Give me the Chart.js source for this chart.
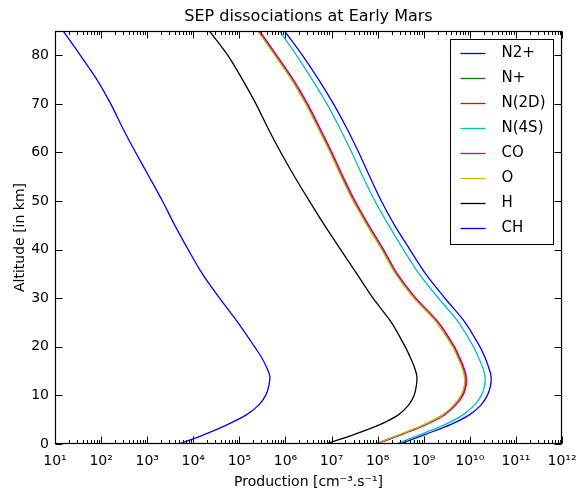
<!DOCTYPE html>
<html>
<head>
<meta charset="utf-8">
<script src="https://cdn.jsdelivr.net/npm/chart.js@4.4.0/dist/chart.umd.min.js"></script>
<style>
html,body{margin:0;padding:0;background:#fff;}
#wrap{width:577px;height:491px;}
</style>
</head>
<body>
<div id="wrap"><canvas id="c" width="577" height="491"></canvas></div>
<script>
// Altitude grid (km)
const altitudeKm = [0,2,4,6,8,10,12,14,16,18,20,25,30,35,40,45,50,55,60,65,70,75,80,85];

// Production rates [cm^-3 s^-1]
const prodN2plus = [3.02e8,1.10e9,3.80e9,9.77e9,1.74e10,2.40e10,2.82e10,2.88e10,2.51e10,2.09e10,1.66e10,7.94e9,2.88e9,1.10e9,5.01e8,2.34e8,1.20e8,6.76e7,3.89e7,2.14e7,1.10e7,5.25e6,2.34e6,9.55e5];
const prodNplus  = [8.91e7,3.16e8,1.05e9,2.63e9,4.57e9,6.61e9,7.76e9,7.76e9,6.76e9,5.50e9,4.37e9,1.95e9,6.31e8,2.51e8,1.26e8,6.03e7,3.02e7,1.66e7,9.55e6,5.25e6,2.82e6,1.38e6,6.03e5,2.57e5];
const prodN2D    = [9.33e7,3.31e8,1.10e9,2.75e9,4.79e9,6.92e9,8.13e9,8.13e9,7.08e9,5.75e9,4.57e9,2.04e9,6.61e8,2.63e8,1.32e8,6.31e7,3.16e7,1.74e7,1.00e7,5.50e6,2.95e6,1.45e6,6.31e5,2.69e5];
const prodN4S    = [2.51e8,8.71e8,2.88e9,7.08e9,1.26e10,1.78e10,2.09e10,2.14e10,1.86e10,1.51e10,1.20e10,5.75e9,2.09e9,7.94e8,3.63e8,1.74e8,8.71e7,4.79e7,2.75e7,1.51e7,7.94e6,3.80e6,1.74e6,7.41e5];
const prodCO     = [9.55e7,3.39e8,1.12e9,2.82e9,4.90e9,7.08e9,8.32e9,8.32e9,7.24e9,5.89e9,4.68e9,2.09e9,6.76e8,2.69e8,1.35e8,6.46e7,3.24e7,1.78e7,1.02e7,5.62e6,3.02e6,1.48e6,6.46e5,2.75e5];
const prodO      = [8.71e7,3.09e8,1.02e9,2.57e9,4.47e9,6.46e9,7.59e9,7.59e9,6.61e9,5.37e9,4.27e9,1.91e9,6.17e8,2.45e8,1.23e8,5.89e7,2.95e7,1.62e7,9.33e6,5.13e6,2.75e6,1.35e6,5.89e5,2.51e5];
const prodH      = [7.59e6,3.16e7,1.12e8,2.82e8,4.68e8,6.17e8,6.92e8,7.08e8,6.17e8,5.01e8,3.98e8,2.00e8,7.94e7,3.55e7,1.58e7,7.08e6,3.31e6,1.58e6,7.94e5,4.17e5,2.29e5,1.17e5,5.62e4,2.24e4];
const prodCH     = [5.01e3,1.78e4,5.50e4,1.41e5,2.63e5,3.72e5,4.37e5,4.57e5,3.80e5,2.95e5,2.14e5,9.33e4,3.72e4,1.58e4,7.76e3,3.98e3,2.14e3,1.10e3,5.62e2,2.95e2,1.62e2,8.13e1,3.55e1,1.51e1];

const seriesNames  = ['N2+','N+','N(2D)','N(4S)','CO','O','H','CH'];
const seriesColors = ['#0000ff','#008000','#ff0000','#00bfbf','#bf00bf','#bfbf00','#000000','#0000ff'];
const seriesValues = [prodN2plus,prodNplus,prodN2D,prodN4S,prodCO,prodO,prodH,prodCH];

const xTickValues = [1e1,1e2,1e3,1e4,1e5,1e6,1e7,1e8,1e9,1e10,1e11,1e12];
const xTickLabels = ['10¹','10²','10³','10⁴','10⁵','10⁶','10⁷','10⁸','10⁹','10¹⁰','10¹¹','10¹²'];
const yTickValues = [0,10,20,30,40,50,60,70,80];

const FONT = 'DejaVu Sans';

const datasets = seriesNames.map((name, k) => ({
  label: name,
  data: altitudeKm.map((alt, i) => ({x: seriesValues[k][i], y: alt})),
  borderColor: seriesColors[k],
  backgroundColor: seriesColors[k],
  borderWidth: 1.3,
  pointRadius: 0,
  showLine: true,
  fill: false,
  tension: 0.3,
  order: seriesNames.length - k   // later series drawn on top, as in the reference
}));

const framePlugin = {
  id: 'frameTicks',
  afterDraw(chart) {
    const {ctx, chartArea: a, scales} = chart;
    const xs = scales.x, ys = scales.y;
    ctx.save();
    ctx.strokeStyle = '#000';
    ctx.lineWidth = 1;
    ctx.beginPath();
    const L = Math.round(a.left) + 0.5, R = Math.round(a.right) - 0.5;
    const T = Math.round(a.top) + 0.5, B = Math.round(a.bottom) - 0.5;
    for (let e = 1; e <= 12; e++) {
      const base = Math.pow(10, e);
      const px = Math.round(xs.getPixelForValue(base)) + 0.5;
      ctx.moveTo(px, B); ctx.lineTo(px, B - 7);
      ctx.moveTo(px, T); ctx.lineTo(px, T + 7);
      if (e < 12) {
        for (let k = 2; k <= 9; k++) {
          const mx = Math.round(xs.getPixelForValue(k * base)) + 0.5;
          ctx.moveTo(mx, B); ctx.lineTo(mx, B - 3.5);
          ctx.moveTo(mx, T); ctx.lineTo(mx, T + 3.5);
        }
      }
    }
    yTickValues.forEach(v => {
      const py = Math.round(ys.getPixelForValue(v)) + 0.5;
      ctx.moveTo(L, py); ctx.lineTo(L + 7, py);
      ctx.moveTo(R, py); ctx.lineTo(R - 7, py);
    });
    ctx.stroke();
    ctx.lineWidth = 1.2;
    ctx.strokeRect(L, T, R - L, B - T);
    ctx.restore();
  }
};

const legendPlugin = {
  id: 'boxLegend',
  afterDraw(chart) {
    const {ctx, chartArea: a} = chart;
    const ds = chart.data.datasets;
    const boxRight = a.right - 9, boxTop = a.top + 8;
    const boxW = 103, rowH = 25, boxH = ds.length * rowH + 5;
    const bx = Math.round(boxRight - boxW) + 0.5, by = Math.round(boxTop) + 0.5;
    ctx.save();
    ctx.fillStyle = '#fff';
    ctx.fillRect(bx, by, boxW, boxH);
    ctx.strokeStyle = '#000';
    ctx.lineWidth = 1;
    ctx.strokeRect(bx, by, boxW, boxH);
    ctx.font = '15px "' + FONT + '"';
    ctx.textBaseline = 'middle';
    ctx.textAlign = 'left';
    ds.forEach((d, i) => {
      const cy = by + 14 + i * rowH;
      ctx.strokeStyle = d.borderColor;
      ctx.lineWidth = 1.3;
      ctx.beginPath();
      ctx.moveTo(bx + 10, cy); ctx.lineTo(bx + 35, cy);
      ctx.stroke();
      ctx.fillStyle = '#000';
      ctx.fillText(d.label, bx + 51, cy);
    });
    ctx.restore();
  }
};

new Chart(document.getElementById('c'), {
  type: 'scatter',
  data: { datasets },
  options: {
    responsive: false,
    animation: false,
    devicePixelRatio: 1,
    layout: { padding: { left: 0, right: 15, top: 0, bottom: 0 } },
    plugins: {
      legend: { display: false },
      tooltip: { enabled: false },
      title: {
        display: true,
        text: 'SEP dissociations at Early Mars',
        fullSize: false,
        color: '#000',
        font: { family: FONT, size: 16, weight: 'normal', lineHeight: 1.25 },
        padding: { top: 7, bottom: 4 }
      }
    },
    scales: {
      x: {
        type: 'logarithmic',
        position: 'bottom',
        min: 1e1,
        max: 1e12,
        afterBuildTicks: s => { s.ticks = xTickValues.map(v => ({ value: v })); },
        afterFit: s => { s.height = 47; s.paddingLeft = 0; s.paddingRight = 0; },
        grid: { display: false, drawTicks: false, tickLength: 0 },
        border: { display: false },
        ticks: {
          autoSkip: false,
          maxRotation: 0,
          minRotation: 0,
          padding: 9,
          color: '#000',
          font: { family: FONT, size: 14 },
          callback: (v, i) => xTickLabels[i]
        },
        title: {
          display: true,
          text: 'Production [cm⁻³.s⁻¹]',
          color: '#000',
          font: { family: FONT, size: 14 },
          padding: { top: 0, bottom: 0 }
        }
      },
      y: {
        type: 'linear',
        min: 0,
        max: 85,
        afterBuildTicks: s => { s.ticks = yTickValues.map(v => ({ value: v })); },
        afterFit: s => { s.width = 55; s.paddingTop = 0; s.paddingBottom = 0; },
        grid: { display: false, drawTicks: false, tickLength: 0 },
        border: { display: false },
        ticks: {
          padding: 6,
          color: '#000',
          font: { family: FONT, size: 14 }
        },
        title: {
          display: true,
          text: 'Altitude [in km]',
          color: '#000',
          font: { family: FONT, size: 14 },
          padding: { top: 12, bottom: 0 }
        }
      }
    }
  },
  plugins: [framePlugin, legendPlugin]
});
</script>
</body>
</html>
